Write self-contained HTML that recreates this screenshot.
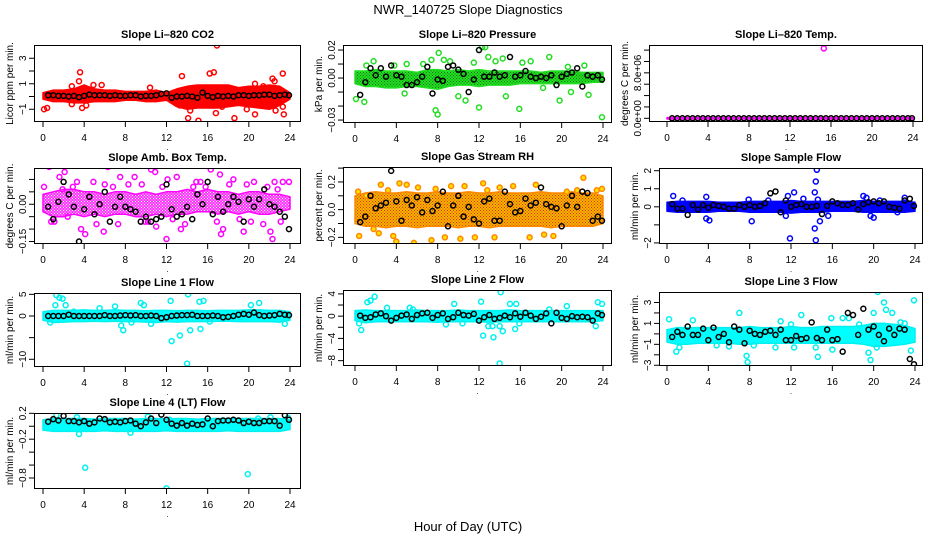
<!DOCTYPE html>
<html><head><meta charset="utf-8"><style>
html,body{margin:0;padding:0;background:#fff;}
svg{display:block;font-family:"Liberation Sans",sans-serif;}
</style></head><body>
<svg id="chart" width="936" height="540" viewBox="0 0 936 540">
<rect x="0" y="0" width="936" height="540" fill="#fff"/>
<text x="468" y="14" text-anchor="middle" font-size="13">NWR_140725  Slope Diagnostics</text>
<text x="468" y="531" text-anchor="middle" font-size="13">Hour of Day (UTC)</text>
</svg>
<script>
// ---- shared categories ----
const bandHours = [0,1,2,3,4,5,6,7,8,9,10,11,12,13,14,15,16,17,18,19,20,21,22,23,24];
const blackHours = [0.5,1,1.5,2,2.5,3,3.5,4,4.5,5,5.5,6,6.5,7,7.5,8,8.5,9,9.5,10,10.5,11,11.5,12,12.5,13,13.5,14,14.5,15,15.5,16,16.5,17,17.5,18,18.5,19,19.5,20,20.5,21,21.5,22,22.5,23,23.5,23.9];
const xTicks = [0,4,8,12,16,20,24];
const xTickLabels = ["0","4","8","12","16","20","24"];

// ---- Panel 1: CO2 ----
const co2BandHi = [0.3,0.5,0.5,0.6,0.9,0.6,0.5,0.5,0.4,0.4,0.4,0.5,0.3,0.6,0.8,0.9,0.9,0.9,0.9,0.7,0.8,0.8,0.9,0.8,0.3];
const co2BandLo = [-0.2,-0.4,-0.4,-0.5,-0.5,-0.4,-0.4,-0.4,-0.3,-0.3,-0.4,-0.4,-0.3,-0.8,-1.0,-0.9,-0.9,-0.9,-0.8,-0.7,-0.8,-0.9,-1.0,-0.7,-0.2];
const co2OutX = [0.1,0.4,3.6,3.5,2.8,2.8,3.8,4.2,4.9,5.7,10.4,13.5,14.1,15.1,14.3,16.2,16.6,16.9,16.8,18.6,19.8,20.6,20.6,21.4,22.3,22.5,23.3,23.4,23.3,22.6,17.4,13.3];
const co2OutY = [-1.0,-0.9,1.9,1.2,0.8,-0.6,-0.9,-0.7,0.9,0.9,0.7,1.6,-1.7,-1.9,-1.1,1.8,1.9,4.0,-1.3,-1.7,-1.0,-1.4,1.0,0.8,1.4,1.2,1.8,-1.4,-0.8,-1.1,-0.8,-0.7];
const co2Black = [0.1,0.1,0.05,0.05,0,0.05,-0.05,0.05,0.15,0.1,0.1,0.1,0.05,0.1,0.05,0.05,0.1,0.1,0,0.05,0.05,0.1,0.2,0.25,-0.1,0,0,0.05,0,-0.1,0.3,0.05,-0.05,0.05,0,0.05,0,0.1,0.1,0.05,0.1,0.1,0.15,0.15,0.05,0.1,0.15,0.1];
const co2YTicks = [-1,0,1,2,3];
const co2YLabels = ["\u22121","","1","","3"];

// ---- Panel 2: Pressure ----
const presBandHi = [0.005,0.005,0.006,0.005,0.005,0.005,0.004,0.006,0.006,0.005,0.006,0.005,0.006,0.005,0.005,0.005,0.005,0.005,0.004,0.005,0.005,0.005,0.004,0.004,0.004];
const presBandLo = [-0.004,-0.006,-0.006,-0.007,-0.007,-0.006,-0.006,-0.007,-0.008,-0.006,-0.005,-0.005,-0.006,-0.005,-0.005,-0.005,-0.004,-0.004,-0.004,-0.004,-0.004,-0.004,-0.004,-0.003,-0.003];
const presOutX = [0.1,0.9,1.8,3.8,5,7.4,7.8,8.0,8.1,8.6,9.2,10,10.7,11.5,12,12.3,12.6,12.9,13.6,14.3,14.6,15.9,16.2,17,18.8,19.8,20.6,22.2,23.9,18.2,20.9,22.6,4.8,1.1,6.6];
const presOutY = [-0.015,-0.017,0.012,0.009,0.01,0.013,-0.023,-0.026,0.018,0.013,0.012,-0.013,-0.016,0.011,-0.021,0.022,0.022,0.015,0.012,0.014,-0.013,-0.022,0.011,0.012,0.015,-0.016,0.008,0.009,-0.028,-0.007,-0.01,-0.012,-0.011,0.009,0.01];
const presBlack = [-0.012,-0.003,0.007,0.002,0.007,0.001,0.009,0.002,0.001,-0.005,-0.005,-0.003,0.001,0.008,-0.011,-0.001,-0.002,0.008,0.009,0.006,0.003,-0.01,-0.001,0.02,0.001,0.001,0.004,0.001,0.002,0.015,0.001,0.002,0.005,0.001,0,0.001,0,0.002,-0.005,0.001,0.003,0.004,0.007,-0.006,0.002,0.001,0.002,-0.001];
const presYTicks = [-0.03,-0.02,-0.01,0,0.01,0.02];
const presYLabels = ["\u22120.03","","","0.00","","0.02"];

// ---- Panel 3: Li-820 Temp (units of 1e6) ----
const tempBandHi = [0.12,0.12,0.12,0.12,0.12,0.12,0.12,0.12,0.12,0.12,0.12,0.12,0.12,0.12,0.12,0.12,0.12,0.12,0.12,0.12,0.12,0.12,0.12,0.12,0.12];
const tempBandLo = [-0.12,-0.12,-0.12,-0.12,-0.12,-0.12,-0.12,-0.12,-0.12,-0.12,-0.12,-0.12,-0.12,-0.12,-0.12,-0.12,-0.12,-0.12,-0.12,-0.12,-0.12,-0.12,-0.12,-0.12,-0.12];
const tempOutX = [15.3];
const tempOutY = [12.3];
const tempBlack = [0,0,0,0,0,0,0,0,0,0,0,0,0,0,0,0,0,0,0,0,0,0,0,0,0,0,0,0,0,0,0,0,0,0,0,0,0,0,0,0,0,0,0,0,0,0,0,0];
const tempYTicks = [0,2,4,6,8,10,12];
const tempYLabels = ["0.0e+00","","","","8.0e+06","",""];

// ---- Panel 4: Amb Box Temp ----
const ambBandHi = [0.04,0.05,0.06,0.06,0.05,0.05,0.04,0.05,0.05,0.04,0.05,0.04,0.05,0.05,0.06,0.05,0.06,0.05,0.05,0.04,0.05,0.05,0.04,0.04,0.03];
const ambBandLo = [-0.03,-0.05,-0.05,-0.04,-0.05,-0.04,-0.05,-0.04,-0.04,-0.05,-0.05,-0.04,-0.05,-0.04,-0.04,-0.03,-0.03,-0.04,-0.03,-0.04,-0.03,-0.04,-0.04,-0.03,-0.02];
const ambOutX = [0.6,2.1,1.1,0.1,3.3,3.7,4.1,2.4,5.9,6.3,6.0,7.5,8.9,10.5,10.9,11.0,12.0,12.1,13.0,13.4,14.9,16.3,17.2,17.3,17.5,18.5,19.5,20.5,21.4,22.3,22.1,22.5,23.3,23.9,1.6,9.6,15.3,4.9,7.3,19.8,0.8,2.9,5.2,8.3,9.9,11.6,13.8,14.6,16.9,18.1,20.2,21.8,23.1,1.9,6.8,10.2,12.6,15.8,19.1,22.8];
const ambOutY = [0.15,0.13,-0.07,0.07,0.09,-0.1,-0.12,-0.05,-0.11,0.15,0.08,0.11,0.11,0.14,0.13,-0.09,-0.14,0.1,0.11,-0.1,0.09,0.14,0.12,-0.12,-0.1,0.1,-0.11,0.09,-0.08,-0.14,-0.11,0.09,0.09,0.09,0.11,0.08,0.09,0.09,-0.08,0.08,-0.07,0.07,-0.08,0.08,-0.07,0.07,-0.08,0.07,-0.07,0.08,-0.07,0.07,-0.07,0.06,0.07,-0.07,-0.06,0.07,-0.06,0.06];
const ambBlack = [-0.01,-0.06,0.01,0.09,0.04,-0.01,-0.15,-0.02,0.03,-0.04,0,0.05,-0.07,-0.01,0.03,-0.01,-0.02,-0.03,-0.07,-0.05,-0.07,-0.06,-0.05,0.08,-0.02,-0.05,-0.04,-0.01,-0.06,0.04,0,0.09,-0.04,0.03,-0.03,0,0.03,0.01,-0.07,0.02,-0.01,0.02,0.06,0,-0.01,-0.03,-0.05,-0.1];
const ambYTicks = [-0.15,-0.1,-0.05,0,0.05,0.1];
const ambYLabels = ["\u22120.15","","","0.00","",""];

// ---- Panel 5: Gas Stream RH ----
const rhBandHi = [0.1,0.12,0.13,0.12,0.12,0.13,0.12,0.12,0.13,0.12,0.12,0.13,0.12,0.12,0.13,0.12,0.12,0.12,0.13,0.12,0.12,0.13,0.12,0.12,0.1];
const rhBandLo = [-0.1,-0.12,-0.12,-0.13,-0.12,-0.12,-0.13,-0.12,-0.12,-0.12,-0.13,-0.12,-0.12,-0.13,-0.12,-0.12,-0.12,-0.12,-0.12,-0.13,-0.12,-0.12,-0.12,-0.12,-0.1];
const rhOutX = [0.4,1.1,1.8,2.5,3.2,3.7,4.0,4.3,5.0,5.7,6.1,7.4,7.8,8.7,9.3,10.2,10.6,11.6,12.4,13.5,14.0,15.3,16.9,16.8,17.5,18.3,19.2,20.5,20.6,21.5,22.1,23.4,23.9,0.3,2.3,12.8];
const rhOutY = [-0.19,0.1,-0.14,0.18,0.14,-0.19,-0.23,0.19,0.18,-0.24,0.16,-0.22,0.15,-0.2,0.17,-0.21,0.17,-0.2,0.19,-0.2,0.16,0.17,-0.2,0.35,0.18,-0.18,-0.19,0.13,-0.29,0.14,0.23,0.14,0.15,0.13,-0.17,0.14];
const rhBlack = [-0.09,-0.05,0.1,0.01,0.03,0.05,0.28,0.06,-0.08,0.07,0.03,0.09,-0.02,0.07,-0.01,0.03,0.13,-0.12,0.03,0.1,-0.05,0.02,-0.07,-0.1,0.06,0.08,-0.08,-0.08,0.13,0.04,-0.02,-0.01,0.08,0.03,0.05,0.16,0.04,0.02,0.01,-0.12,0.03,0.1,0.02,0.13,0.12,-0.08,-0.05,-0.08];
const rhYTicks = [-0.2,-0.1,0,0.1,0.2,0.3];
const rhYLabels = ["\u22120.2","","0.0","","0.2",""];

// ---- Panel 6: Sample Flow ----
const sampBandHi = [0.25,0.3,0.3,0.3,0.3,0.25,0.25,0.25,0.3,0.3,0.3,0.3,0.35,0.3,0.3,0.3,0.3,0.3,0.3,0.35,0.3,0.3,0.3,0.3,0.25];
const sampBandLo = [-0.25,-0.3,-0.3,-0.3,-0.3,-0.25,-0.25,-0.25,-0.3,-0.3,-0.3,-0.3,-0.35,-0.3,-0.3,-0.3,-0.25,-0.25,-0.25,-0.3,-0.3,-0.3,-0.3,-0.3,-0.25];
const sampOutX = [0.6,1.5,3.8,3.8,4.1,7.9,8.2,9.8,11.7,11.9,12.3,11.5,14.3,14.4,14.5,14.6,14.3,14.4,14.8,15.6,19.0,19.3,19.7,20.0,20.6,22.3,23.0,13.2];
const sampOutY = [0.6,0.35,0.55,-0.65,-0.75,0.4,-0.8,0.35,0.6,-1.75,0.8,-0.5,0.8,1.4,2.05,0.4,-1.2,-1.85,-0.8,-0.5,0.6,0.5,-0.5,-0.6,0.35,-0.3,0.5,0.45];
const sampBlack = [0.15,-0.1,-0.1,-0.45,0.1,-0.15,0.1,-0.05,0.1,0.05,0,-0.1,-0.1,0.1,0,0.1,0,0.05,0.2,0.75,0.85,-0.3,0.35,0,0.1,0.15,0,0,0.05,-0.4,0.05,0.3,0.2,0.1,0.1,0.2,-0.15,0.15,0.25,0.3,0.2,0.3,0,-0.05,-0.1,0.35,0.45,0.05];
const sampYTicks = [-2,-1,0,1,2];
const sampYLabels = ["\u22122","","0","1","2"];

// ---- Panel 7: Line 1 Flow ----
const l1BandHi = [1.0,1.3,1.3,1.3,1.4,1.3,1.3,1.4,1.3,1.3,1.2,1.3,1.3,1.2,1.3,1.3,1.2,1.3,1.3,1.3,1.4,1.4,1.3,1.3,1.0];
const l1BandLo = [-1.0,-1.5,-1.4,-1.3,-1.3,-1.2,-1.3,-1.2,-1.3,-1.3,-1.4,-1.5,-1.3,-1.4,-1.3,-1.3,-1.3,-1.2,-1.2,-1.3,-1.3,-1.3,-1.3,-1.4,-1.0];
const l1OutX = [1.2,1.3,1.6,1.9,2.2,0.7,3.0,7.6,7.8,8.6,9.5,9.8,10.5,12.4,12.5,13.3,14.0,14.1,14.3,15.2,15.6,15.3,16.2,19.2,20.2,21.0,23.5,5.5,7.0];
const l1OutY = [2.5,4.8,4.2,4.0,2.5,-1.5,1.0,-2.2,-3.3,-1.5,3.0,2.5,-1.8,3.5,-5.8,-4.5,-11,5.0,-3.3,3.3,3.5,-3.0,-1.3,-0.3,2.5,3.0,-1.8,1.8,2.2];
const l1Black = [0,0,0,0,0.3,0,0,0,0,0,0,0.2,0,0,0.1,0.2,0.1,0.2,0,0,0.1,0,-0.5,-0.3,0,0.1,0.2,0.2,0.3,0,0,0,0.1,0,-0.3,-0.2,0,0.3,0.5,0.3,0.8,0.2,0,0.1,0.2,0.5,0.3,0.2];
const l1YTicks = [-10,-5,0,5];
const l1YLabels = ["\u221210","","0","5"];

// ---- Panel 8: Line 2 Flow ----
const l2BandHi = [1.0,1.1,1.0,1.0,1.0,1.0,1.1,1.0,1.0,1.0,1.1,1.0,1.0,1.0,1.0,1.1,1.0,1.0,1.0,1.0,1.0,1.0,1.0,1.0,1.0];
const l2BandLo = [-0.8,-1.2,-1.0,-1.0,-1.0,-1.0,-1.0,-1.0,-1.1,-1.0,-1.0,-1.0,-1.0,-1.1,-1.0,-1.0,-1.0,-1.0,-1.0,-1.0,-1.0,-1.0,-1.0,-1.0,-0.8];
const l2OutX = [0.4,0.6,1.2,1.5,1.9,3.1,5.3,5.6,8.8,9.6,10.4,12.2,12.4,12.9,13.3,13.4,14.0,14.0,14.1,14.3,15.0,15.6,15.5,15.9,18.8,20.5,23.5,23.3,23.9];
const l2OutY = [-1.3,-2.5,2.5,2.8,3.5,1.5,1.5,1.2,-1.5,2.2,-1.3,2.6,-3.5,-1.8,-1.8,-3.8,-1.8,-8.5,4.3,-2.7,2.2,2.2,-2.3,-1.3,1.2,1.8,2.5,-1.8,2.2];
const l2Black = [0.1,-0.3,-0.2,0.3,0.5,0,-0.8,-0.3,0.1,0.3,-0.5,0.2,0.5,0.6,-0.3,0.2,0.5,-0.5,-0.2,0.6,0.2,0.1,0.4,-0.8,-0.2,0.2,-0.5,-0.3,0.1,-0.2,0.5,-0.1,0.6,0.1,-0.5,-0.1,0.5,-1.3,0.6,-0.3,-0.5,0,-0.2,-0.1,-0.2,-0.8,0.5,0.2];
const l2YTicks = [-8,-6,-4,-2,0,2,4];
const l2YLabels = ["\u22128","","\u22124","","0","","4"];

// ---- Panel 9: Line 3 Flow ----
const l3BandHi = [0.4,0.6,0.6,0.6,0.6,0.6,0.6,0.6,0.7,0.6,0.6,0.6,0.7,0.6,0.6,0.7,0.7,0.7,0.7,0.8,1.0,1.0,0.9,0.8,0.5];
const l3BandLo = [-0.8,-1.0,-1.0,-0.9,-0.9,-0.9,-0.9,-1.0,-1.0,-0.9,-0.9,-0.9,-0.9,-0.9,-0.9,-0.9,-0.9,-0.9,-0.9,-1.0,-1.2,-1.2,-1.1,-1.0,-0.8];
const l3OutX = [0.2,0.9,1.2,2.5,4.8,6.0,7.0,7.7,7.8,8.4,10.5,11.0,12.0,12.3,13.0,14.6,14.4,15.9,16.0,17.0,17.6,18.6,19.5,19.7,20.3,20.4,20.0,21.0,21.2,21.8,22.6,23.6,23.9,23.0];
const l3OutY = [1.4,-1.7,-1.3,1.3,-1.1,-1.2,2.0,-2.1,-2.7,-1.1,-1.3,1.2,0.9,-1.3,1.8,-2.2,-1.3,1.5,-1.5,1.5,1.5,0.9,-1.8,-2.5,-1.3,4.0,2.0,3.0,2.3,2.0,1.1,-1.6,3.2,1.0];
const l3Black = [-0.3,0.2,-0.1,0.7,-0.1,-0.1,0.5,-0.6,0.6,-0.3,0,-0.8,0.7,0.4,-0.9,0.3,0,-0.1,0.2,0.3,-0.1,0.4,-0.6,-0.6,-0.2,-0.5,-0.4,1.1,-0.4,-0.6,0.4,-0.6,-0.5,-1.7,2,1.8,-0.1,2.4,0.4,0.7,-0.1,-0.7,0.5,-0.1,0.5,0.4,-2.4,-2.9];
const l3YTicks = [-3,-2,-1,0,1,2,3];
const l3YLabels = ["\u22123","","\u22121","","1","","3"];

// ---- Panel 10: Line 4 (LT) Flow ----
const l4BandHi = [0.1,0.12,0.12,0.12,0.12,0.11,0.12,0.12,0.12,0.11,0.12,0.12,0.11,0.12,0.12,0.11,0.12,0.12,0.12,0.12,0.12,0.12,0.12,0.12,0.1];
const l4BandLo = [-0.06,-0.08,-0.08,-0.08,-0.08,-0.08,-0.07,-0.08,-0.08,-0.08,-0.08,-0.08,-0.07,-0.08,-0.08,-0.08,-0.08,-0.08,-0.07,-0.08,-0.08,-0.08,-0.08,-0.08,-0.05];
const l4OutX = [1.3,3.3,3.5,4.1,10.2,12.0,19.9,20.9,22.1,23.8,8.5,12.3];
const l4OutY = [0.17,0.14,-0.12,-0.64,0.15,-0.96,-0.74,0.12,0.14,0.13,-0.1,0.1];
const l4Black = [0.07,0.11,0.09,0.16,0.08,0.08,0.06,0.08,0.04,0.06,0.12,0.11,0.06,0.07,0.06,0.08,0.09,0.04,0.0,0.06,0.12,0.05,0.18,0.1,0.04,0.01,0.05,0.01,0.04,0.02,0.03,0.12,0.0,0.08,0.09,0.09,0.1,0.09,0.05,0.07,0.05,0.05,0.08,0.08,0.08,0.01,0.17,0.1];
const l4YTicks = [-0.8,-0.6,-0.4,-0.2,0,0.2];
const l4YLabels = ["\u22120.8","","","\u22120.2","","0.2"];

const NS = "http://www.w3.org/2000/svg";
const svg = document.getElementById('chart');
function mk(tag, attrs, parent) {
  const e = document.createElementNS(NS, tag);
  for (const k in attrs) e.setAttribute(k, attrs[k]);
  (parent || svg).appendChild(e);
  return e;
}

// stipple patterns for dense bands
const defs = mk('defs', {});
function pattern(id, bg, dot) {
  const pt = mk('pattern', {id:id, width:3, height:3, patternUnits:'userSpaceOnUse'}, defs);
  mk('rect', {x:0, y:0, width:3, height:3, fill:bg}, pt);
  mk('rect', {x:0, y:0, width:1, height:1, fill:dot}, pt);
  mk('rect', {x:1.5, y:1.5, width:1, height:1, fill:dot}, pt);
}
pattern('pat-green', '#22dd22', '#0a7a0a');
pattern('pat-rh', '#f5b400', '#e03000');
pattern('pat-mag', '#ff33ff', '#ffffff');

const panels = [
  {key:"co2", title:"Slope Li\u2013820 CO2", ylab:"Licor ppm per min.", box:[34,45,301,122], x0:43, x24:290, yTop:4.04, yBot:-2.0, hi:co2BandHi, lo:co2BandLo, ox:co2OutX, oy:co2OutY, blk:co2Black, yt:co2YTicks, yl:co2YLabels, band:"#ff0000", stroke:"#ff0000", fill:"none"},
  {key:"pressure", title:"Slope Li\u2013820 Pressure", ylab:"kPa per min.", box:[343,45,612,123], x0:355, x24:603, yTop:0.0236, yBot:-0.0321, hi:presBandHi, lo:presBandLo, ox:presOutX, oy:presOutY, blk:presBlack, yt:presYTicks, yl:presYLabels, band:"url(#pat-green)", stroke:"#22dd22", fill:"none"},
  {key:"li820-temp", title:"Slope Li\u2013820 Temp.", ylab:"degrees C per min.", box:[649,45,923,122], x0:667, x24:913, yTop:12.9, yBot:-0.65, hi:tempBandHi, lo:tempBandLo, ox:tempOutX, oy:tempOutY, blk:tempBlack, yt:tempYTicks, yl:tempYLabels, band:"#ff00ff", stroke:"#ff00ff", fill:"none"},
  {key:"amb-box-temp", title:"Slope Amb. Box Temp.", ylab:"degrees C per min.", box:[34,168,301,244], x0:43, x24:290, yTop:0.146, yBot:-0.16, hi:ambBandHi, lo:ambBandLo, ox:ambOutX, oy:ambOutY, blk:ambBlack, yt:ambYTicks, yl:ambYLabels, band:"url(#pat-mag)", stroke:"#ff00ff", fill:"none"},
  {key:"gas-stream-rh", title:"Slope Gas Stream RH", ylab:"percent per min.", box:[343,167,612,244], x0:355, x24:603, yTop:0.308, yBot:-0.248, hi:rhBandHi, lo:rhBandLo, ox:rhOutX, oy:rhOutY, blk:rhBlack, yt:rhYTicks, yl:rhYLabels, band:"url(#pat-rh)", stroke:"#ff8800", fill:"#ffe000"},
  {key:"sample-flow", title:"Slope Sample Flow", ylab:"ml/min per min.", box:[659,168,923,244], x0:667, x24:915, yTop:2.15, yBot:-2.06, hi:sampBandHi, lo:sampBandLo, ox:sampOutX, oy:sampOutY, blk:sampBlack, yt:sampYTicks, yl:sampYLabels, band:"#0000ff", stroke:"#0000ff", fill:"none"},
  {key:"line1-flow", title:"Slope Line 1 Flow", ylab:"ml/min per min.", box:[34,293,301,367], x0:43, x24:290, yTop:5.31, yBot:-11.78, hi:l1BandHi, lo:l1BandLo, ox:l1OutX, oy:l1OutY, blk:l1Black, yt:l1YTicks, yl:l1YLabels, band:"#00ffff", stroke:"#00f0f0", fill:"none"},
  {key:"line2-flow", title:"Slope Line 2 Flow", ylab:"ml/min per min.", box:[343,290,612,366], x0:355, x24:603, yTop:4.7, yBot:-8.96, hi:l2BandHi, lo:l2BandLo, ox:l2OutX, oy:l2OutY, blk:l2Black, yt:l2YTicks, yl:l2YLabels, band:"#00ffff", stroke:"#00f0f0", fill:"none"},
  {key:"line3-flow", title:"Slope Line 3 Flow", ylab:"ml/min per min.", box:[659,292,923,366], x0:667, x24:915, yTop:4.0, yBot:-3.07, hi:l3BandHi, lo:l3BandLo, ox:l3OutX, oy:l3OutY, blk:l3Black, yt:l3YTicks, yl:l3YLabels, band:"#00ffff", stroke:"#00f0f0", fill:"none"},
  {key:"line4-flow", title:"Slope Line 4 (LT) Flow", ylab:"ml/min per min.", box:[34,413,301,489], x0:43, x24:290, yTop:0.205, yBot:-0.97, hi:l4BandHi, lo:l4BandLo, ox:l4OutX, oy:l4OutY, blk:l4Black, yt:l4YTicks, yl:l4YLabels, band:"#00ffff", stroke:"#00f0f0", fill:"none"}
];

panels.forEach(function(p, idx) {
  const L = p.box[0], T = p.box[1], R = p.box[2], B = p.box[3];
  const sx = function(h){ return p.x0 + h / 24 * (p.x24 - p.x0); };
  const sy = function(v){ return T + (p.yTop - v) / (p.yTop - p.yBot) * (B - T); };
  const g = mk('g', {});
  
  

  const cp = mk('clipPath', {id:'clip' + idx}, g);
  mk('rect', {x:L, y:T, width:R - L, height:B - T}, cp);

  const title = mk('text', {x:(L + R) / 2, y:T - 7, 'text-anchor':'middle', 'font-size':'11', 'font-weight':'bold'}, g);
  title.textContent = p.title;
  
  

  const plot = mk('g', {'clip-path':'url(#clip' + idx + ')'}, g);
  
  

  let pts = [];
  bandHours.forEach(function(h, i){ pts.push(sx(h).toFixed(1) + ',' + sy(p.hi[i]).toFixed(1)); });
  for (let i = bandHours.length - 1; i >= 0; i--) pts.push(sx(bandHours[i]).toFixed(1) + ',' + sy(p.lo[i]).toFixed(1));
  const band = mk('polygon', {points:pts.join(' '), fill:p.band, stroke:p.stroke, 'stroke-width':'1.5', 'stroke-linejoin':'round'}, plot);
  
  

  p.ox.forEach(function(x, i){
    const c = mk('circle', {cx:sx(x), cy:sy(p.oy[i]), r:2.5, fill:p.fill, stroke:p.stroke, 'stroke-width':'1.5'}, plot);
    
    
  });
  blackHours.forEach(function(h, i){
    const c = mk('circle', {cx:sx(h), cy:sy(p.blk[i]), r:2.5, fill:'none', stroke:'#000', 'stroke-width':'1.5'}, plot);
    
    
  });

  const frame = mk('rect', {x:L + 0.5, y:T + 0.5, width:R - L - 1, height:B - T - 1, fill:'none', stroke:'#000', 'stroke-width':'1'}, g);
  
  

  xTicks.forEach(function(t, i){
    const x = sx(t);
    const tk = mk('line', {x1:x, y1:B, x2:x, y2:B + 5, stroke:'#000'}, g);
    
    
    const tl = mk('text', {x:x, y:B + 19, 'text-anchor':'middle', 'font-size':'10'}, g);
    tl.textContent = xTickLabels[i];
    
    
  });
  const dot = mk('text', {x:(L + R) / 2, y:B + 28, 'text-anchor':'middle', 'font-size':'8'}, g);
  dot.textContent = '.';
  
  

  p.yt.forEach(function(t, i){
    const y = sy(t);
    const tk = mk('line', {x1:L - 5, y1:y, x2:L, y2:y, stroke:'#000'}, g);
    
    
    if (p.yl[i]) {
      const tl = mk('text', {x:0, y:0, 'text-anchor':'middle', 'font-size':'10', transform:'translate(' + (L - 8) + ',' + y + ') rotate(-90)'}, g);
      tl.textContent = p.yl[i];
      
      
    }
  });
  const yl = mk('text', {x:0, y:0, 'text-anchor':'middle', 'font-size':'10', transform:'translate(' + (L - 21) + ',' + ((T + B) / 2) + ') rotate(-90)'}, g);
  yl.textContent = p.ylab;
  
  
});
</script>
</body></html>
